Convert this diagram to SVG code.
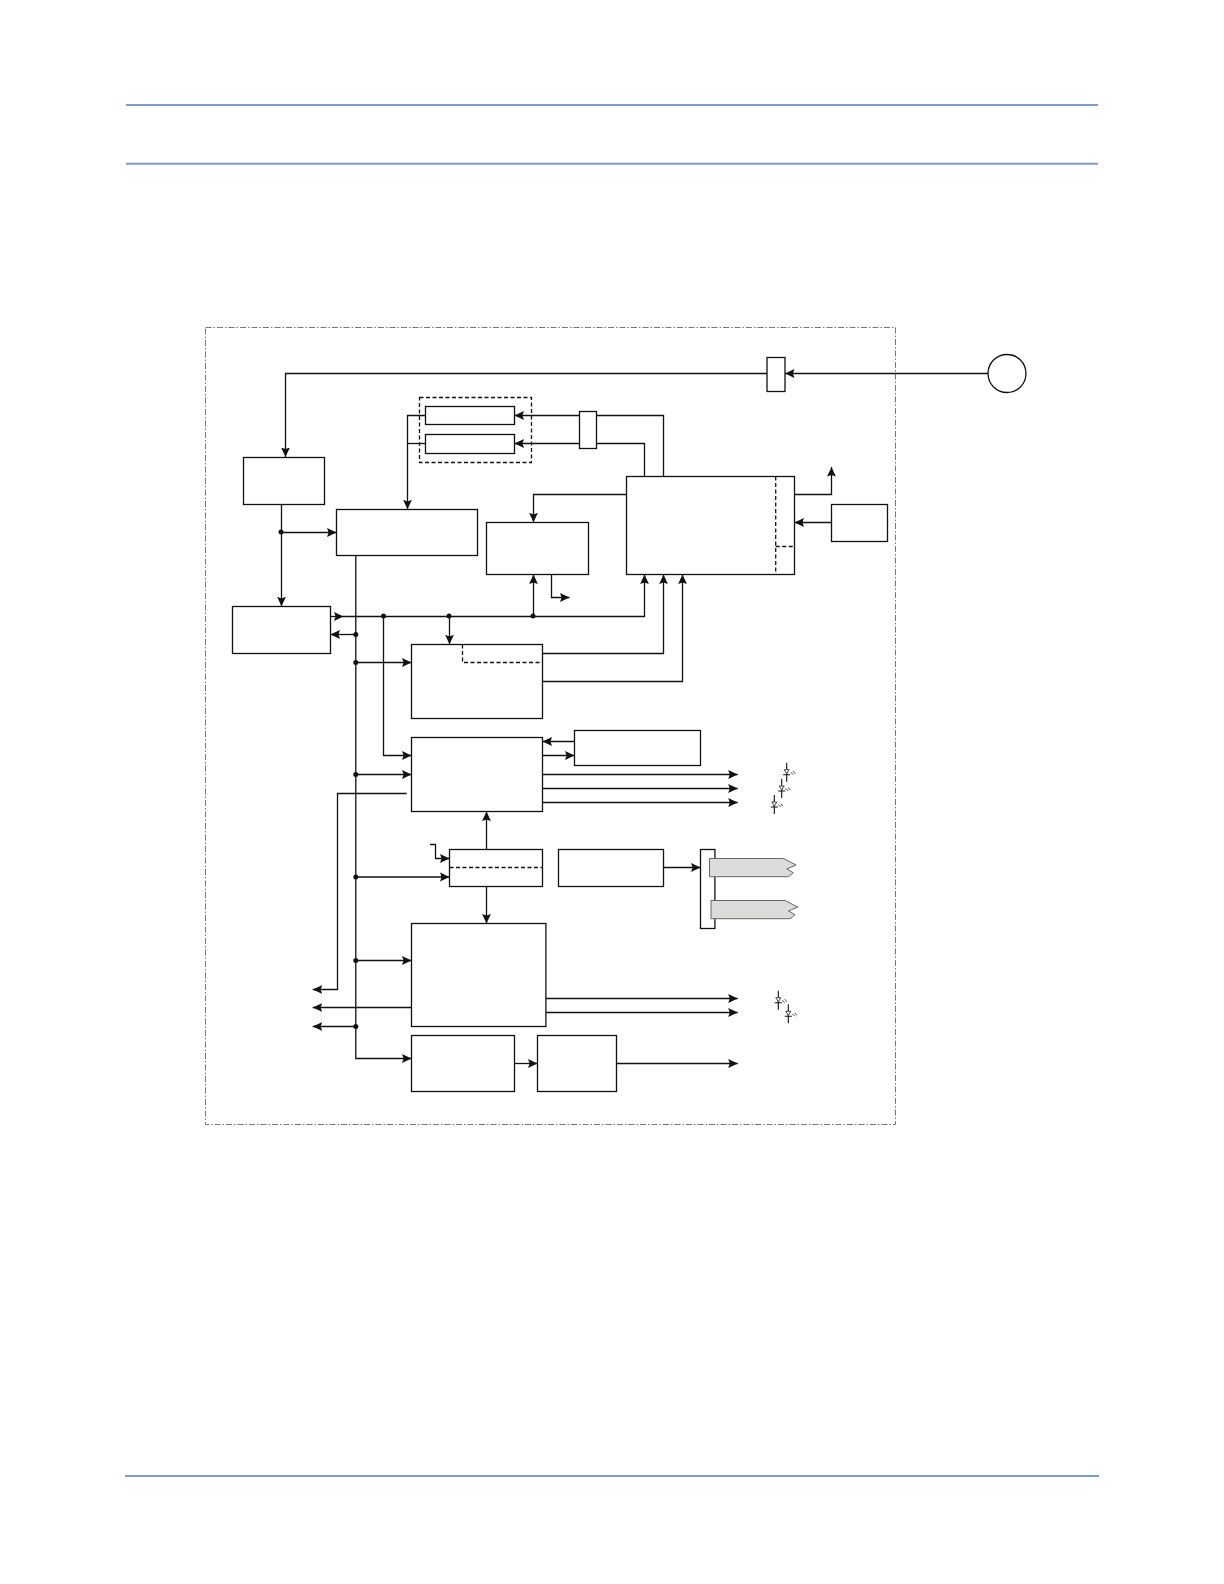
<svg xmlns="http://www.w3.org/2000/svg" xmlns:xlink="http://www.w3.org/1999/xlink" width="1224" height="1584" viewBox="0 0 1224 1584">
<style>
.rule{stroke:#7f9bcb;stroke-width:2;fill:none}
.frame{fill:none;stroke:#777;stroke-width:1;stroke-dasharray:6 2 1.5 2}
.n{fill:#fff;stroke:#111;stroke-width:1.3}
.d{fill:none;stroke:#111;stroke-width:1.3;stroke-dasharray:4 2.5}
.w{fill:none;stroke:#111;stroke-width:1.3}
.a{marker-end:url(#ah)}
.dot{fill:#111;stroke:none}
.tab{fill:#dcdcda;stroke:#666;stroke-width:1}
.led{fill:none;stroke:#111;stroke-width:1.1}
.ledt{fill:#fff;stroke:#444;stroke-width:1}
</style>
<defs>
<marker id="ah" markerUnits="userSpaceOnUse" markerWidth="11" markerHeight="11" refX="9.5" refY="5" orient="auto"><path d="M0 .6L9.5 5L0 9.4L1.6 5Z" fill="#111"/></marker>
<g id="led"><path class="led" d="M0 0V19M-3.5 12H3.5"/><path class="ledt" d="M-2.5 7H2.5L0 11Z"/><path class="ledt" d="M4 9.5L6.5 12M6.5 8.5L8.5 11"/></g>
</defs>
<rect width="1224" height="1584" fill="#fff"/>
<path class="rule" d="M126 105H1098M126 163.7H1098M125 1476H1099"/>
<rect class="frame" x="205.5" y="327.5" width="690" height="797"/>
<g id="connectors">
<path class="w a" d="M767 373.5H285.5V457"/>
<path class="w a" d="M988 373.5H785"/>
<path class="w a" d="M663.5 476.3V415.5H514.5"/>
<path class="w a" d="M644.5 476.3V443.5H514.5"/>
<path class="w a" d="M425.5 415.5H407.5V509.3"/>
<path class="w" d="M425.5 443.5H407.5"/>
<path class="w a" d="M281.5 504.3V606.3"/>
<path class="w a" d="M281.5 532.5H336.5"/>
<path class="w a" d="M626.5 494.5H533.5V522.3"/>
<path class="w a" d="M794.5 494.5H831.5V467"/>
<path class="w a" d="M831.5 522.5H794.5"/>
<path class="w a" d="M330.5 616.5H343.5"/>
<path class="w a" d="M343 616.5H644.5V574.5"/>
<path class="w a" d="M533.5 616.5V574.5"/>
<path class="w a" d="M551.5 574.5V597.5H569.5"/>
<path class="w a" d="M542.5 653.5H663.5V574.5"/>
<path class="w a" d="M542.5 681.5H682.5V574.5"/>
<path class="w a" d="M449.5 616.5V644.3"/>
<path class="w a" d="M383.5 616.5V755.5H411.5"/>
<path class="w a" d="M355.8 555.5V1058.5H411.5"/>
<path class="w a" d="M355.8 634.5H330.5"/>
<path class="w a" d="M355.8 662.5H411.5"/>
<path class="w a" d="M355.8 774.5H411.5"/>
<path class="w a" d="M406.7 793.5H337.5V989.5H312.7"/>
<path class="w a" d="M355.8 877H449.5"/>
<path class="w a" d="M355.8 960.5H411.5"/>
<path class="w a" d="M411.5 1007.5H312.7"/>
<path class="w a" d="M355.8 1026.5H312.7"/>
<path class="w a" d="M430 844.5H435.5V858.5H449.5"/>
<path class="w a" d="M486.5 849.5V811.5"/>
<path class="w a" d="M486.5 886.5V923.5"/>
<path class="w a" d="M574.5 741.5H542.5"/>
<path class="w a" d="M542.5 755.5H574.5"/>
<path class="w a" d="M542.5 774.5H737.7"/>
<path class="w a" d="M542.5 788.5H737.7"/>
<path class="w a" d="M542.5 802.5H737.7"/>
<path class="w a" d="M663.5 867.5H700.5"/>
<path class="w a" d="M544.3 998.5H737.7"/>
<path class="w a" d="M544.3 1012.5H737.7"/>
<path class="w a" d="M514.5 1063.5H537.5"/>
<path class="w a" d="M616.5 1063.5H737.7"/>
<g class="dot">
<circle cx="281" cy="532" r="2.5"/><circle cx="383.5" cy="616" r="2.5"/><circle cx="449" cy="616" r="2.5"/><circle cx="533" cy="616" r="2.5"/>
<circle cx="355.8" cy="634.5" r="2.5"/><circle cx="355.8" cy="662.5" r="2.5"/><circle cx="355.8" cy="774.5" r="2.5"/><circle cx="355.8" cy="877" r="2.5"/><circle cx="355.8" cy="960.5" r="2.5"/><circle cx="355.8" cy="1026.5" r="2.5"/>
</g>
</g>
<g id="node-a"><rect class="n" x="243.5" y="457.5" width="81" height="47"/></g>
<g id="node-b"><rect class="n" x="232.5" y="606.5" width="98" height="47"/></g>
<g id="node-c"><rect class="n" x="336.5" y="509.5" width="141" height="46"/></g>
<g id="node-mem-group"><rect class="d" x="419.5" y="397.5" width="112" height="65"/>
<rect class="n" x="425.5" y="406.5" width="89" height="18"/>
<rect class="n" x="425.5" y="434.5" width="89" height="19"/></g>
<g id="node-split"><rect class="n" x="579.5" y="411.5" width="17" height="37"/></g>
<g id="node-d"><rect class="n" x="486.5" y="522.5" width="102" height="52"/></g>
<g id="node-e"><rect class="n" x="626.5" y="476.5" width="168" height="98"/>
<path class="d" d="M775.7 476.5V574.5M775.7 546.5H794.5"/></g>
<g id="node-f"><rect class="n" x="831.5" y="504.5" width="56" height="37"/></g>
<g id="node-top"><rect class="n" x="767" y="357.5" width="18" height="34"/></g>
<g id="node-circle"><circle class="n" cx="1007" cy="373.5" r="19"/></g>
<g id="node-g"><rect class="n" x="411.5" y="644.5" width="131" height="74"/>
<path class="d" d="M462.5 644.5V662.5H542.5"/></g>
<g id="node-h"><rect class="n" x="411.5" y="737.5" width="131" height="74"/></g>
<g id="node-i"><rect class="n" x="574.5" y="730.5" width="126" height="35"/></g>
<g id="node-j"><rect class="n" x="449.5" y="849.5" width="93" height="37"/>
<path class="d" d="M449.5 867.5H542.5"/></g>
<g id="node-k"><rect class="n" x="558.5" y="849.5" width="105" height="37"/></g>
<g id="node-conn"><rect class="n" x="700.5" y="849.5" width="14.4" height="79"/>
<path class="tab" d="M709.5 858.5H783.5L796 865L786.7 869L793.3 872.7L788.3 876.7H709.5Z"/>
<path class="tab" d="M711 900.5H785L797.7 907L788.4 911L795 914.7L790 918.7H711Z"/></g>
<g id="node-l"><rect class="n" x="411.5" y="923.5" width="134.4" height="103"/></g>
<g id="node-m"><rect class="n" x="411.5" y="1035.5" width="103" height="56"/></g>
<g id="node-n"><rect class="n" x="537.5" y="1035.5" width="79" height="56"/></g>
<g id="leds">
<use xlink:href="#led" href="#led" x="786.7" y="762.7"/>
<use xlink:href="#led" href="#led" x="781.7" y="779"/>
<use xlink:href="#led" href="#led" x="774.3" y="795"/>
<use xlink:href="#led" href="#led" x="778.3" y="990.7"/>
<use xlink:href="#led" href="#led" x="788.3" y="1004.3"/>
</g>
</svg>
